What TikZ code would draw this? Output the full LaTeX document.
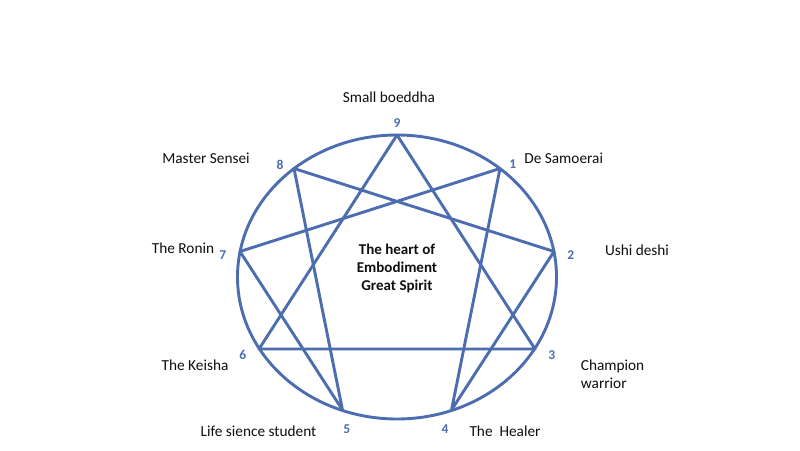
\documentclass[tikz,border=0pt]{standalone}
\usepackage{fontspec}
\setmainfont{Carlito}
\definecolor{enblue}{RGB}{76,110,176}
\definecolor{txt}{RGB}{15,15,15}
\begin{document}
\begin{tikzpicture}[x=1pt,y=-1pt,
  line/.style={draw=enblue,line width=2.9pt,line join=round,line cap=round},
  num/.style={text=enblue,font=\fontsize{13.5}{13.5}\selectfont\bfseries,inner sep=0pt},
  lbl/.style={text=txt,font=\fontsize{15.3}{18}\selectfont,inner sep=0pt},
  ctr/.style={text=txt,font=\fontsize{15}{17.8}\selectfont\bfseries,align=center,inner sep=0pt}]
\useasboundingbox[fill=white] (0,0) rectangle (800,450);
\coordinate (c) at (397,277);
\coordinate (p9) at (397,135);
\coordinate (p1) at (500,168.5);
\coordinate (p2) at (554,251.5);
\coordinate (p3) at (535,349);
\coordinate (p4) at (451.5,410);
\coordinate (p5) at (342.5,410);
\coordinate (p6) at (259,349);
\coordinate (p7) at (240,251.5);
\coordinate (p8) at (294,168.5);
\draw[line] (c) ellipse [x radius=159.5, y radius=142];
\draw[line] (p9) -- (p3) -- (p6) -- cycle;
\draw[line] (p1) -- (p4) -- (p2) -- (p8) -- (p5) -- (p7) -- cycle;
% numbers
\node[num] (n9) at (397,123) {9};
\node[num] (n1) at (512.7,164) {1};
\node[num] (n2) at (570.7,255) {2};
\node[num] (n3) at (551.7,355) {3};
\node[num] (n4) at (445,429) {4};
\node[num] (n5) at (346.7,429) {5};
\node[num] (n6) at (242.7,355) {6};
\node[num] (n7) at (222.7,255) {7};
\node[num] (n8) at (280,165) {8};
% labels
\node[lbl] (l9) at (389,97) {Small boeddha};
\node[lbl] (l1) at (563.7,158) {De Samoerai};
\node[lbl] (l2) at (637,250) {Ushi deshi};
\node[lbl,anchor=west,align=left,font=\fontsize{15.3}{17.7}\selectfont] (l3) at (580.7,374) {Champion\\warrior};
\node[lbl] (l4) at (505,431) {The\ \ Healer};
\node[lbl] (l5) at (258.5,431) {Life sience student};
\node[lbl] (l6) at (195,365) {The Keisha};
\node[lbl] (l7) at (183,248) {The Ronin};
\node[lbl] (l8) at (206,158) {Master Sensei};
\node[ctr] (mid) at (397,268.5) {The heart of\\Embodiment\\Great Spirit};
\end{tikzpicture}
\end{document}
